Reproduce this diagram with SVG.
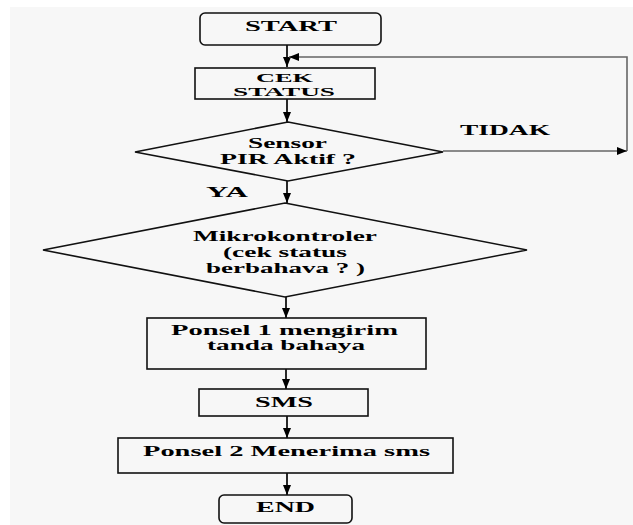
<svg xmlns="http://www.w3.org/2000/svg" width="633" height="525" viewBox="0 0 633 525">
<defs>
<marker id="ah" viewBox="0 0 10 10" refX="10" refY="5" markerWidth="10" markerHeight="10" markerUnits="userSpaceOnUse" orient="auto">
<path d="M0,1 L10,5 L0,9 Z" fill="#000"/>
</marker>
<style>
.box{fill:none;stroke:#111;stroke-width:1.6}
.ln{fill:none;stroke:#111;stroke-width:1.8}
.lp{fill:none;stroke:#666;stroke-width:1.6}
text{font-family:"Liberation Serif","DejaVu Serif","Times New Roman",serif;font-weight:bold;font-size:14px;fill:#000}
</style>
</defs>
<rect x="0" y="0" width="633" height="525" fill="#fff"/>
<rect x="10" y="7" width="623" height="518" fill="#f7f7f7"/>
<g id="connectors">
<line class="ln" x1="287" y1="45" x2="287" y2="67" marker-end="url(#ah)"/>
<polyline class="lp" points="627,151 627,57 289,57" marker-end="url(#ah)"/>
<line class="ln" x1="287" y1="99" x2="287" y2="122" marker-end="url(#ah)"/>
<polyline class="lp" points="443,151 627,151" marker-end="url(#ah)"/>
<line class="ln" x1="287" y1="181" x2="287" y2="203" marker-end="url(#ah)"/>
<line class="ln" x1="286" y1="297" x2="286" y2="318" marker-end="url(#ah)"/>
<line class="ln" x1="286" y1="369" x2="286" y2="389" marker-end="url(#ah)"/>
<line class="ln" x1="287" y1="416" x2="287" y2="438" marker-end="url(#ah)"/>
<line class="ln" x1="287" y1="473" x2="287" y2="495" marker-end="url(#ah)"/>
<text x="460" y="135" textLength="90" lengthAdjust="spacingAndGlyphs">TIDAK</text>
<text x="206" y="197" textLength="42" lengthAdjust="spacingAndGlyphs">YA</text>
</g>
<g id="start">
<rect class="box" x="200" y="13" width="181" height="32" rx="5"/>
<text x="245" y="31" textLength="92" lengthAdjust="spacingAndGlyphs">START</text>
</g>
<g id="cek">
<rect class="box" x="195" y="68" width="180" height="31"/>
<text x="256" y="82" textLength="57" lengthAdjust="spacingAndGlyphs" style="font-size:13px">CEK</text>
<text x="233" y="96" textLength="102" lengthAdjust="spacingAndGlyphs" style="font-size:13px">STATUS</text>
</g>
<g id="sensor">
<polygon class="box" points="288,122 443,152 288,181 135,152"/>
<text x="248" y="148" textLength="79" lengthAdjust="spacingAndGlyphs">Sensor</text>
<text x="220" y="164" textLength="136" lengthAdjust="spacingAndGlyphs">PIR Aktif ?</text>
</g>
<g id="mikro">
<polygon class="box" points="285,203 527,250 285,297 43,250"/>
<text x="193" y="241" textLength="184" lengthAdjust="spacingAndGlyphs">Mikrokontroler</text>
<text x="223" y="257" textLength="124" lengthAdjust="spacingAndGlyphs">(cek status</text>
<text x="206" y="273" textLength="159" lengthAdjust="spacingAndGlyphs">berbahava ? )</text>
</g>
<g id="ponsel1">
<rect class="box" x="147" y="318" width="279" height="51"/>
<text x="171" y="335" textLength="227" lengthAdjust="spacingAndGlyphs">Ponsel 1 mengirim</text>
<text x="207" y="350" textLength="158" lengthAdjust="spacingAndGlyphs">tanda bahaya</text>
</g>
<g id="sms">
<rect class="box" x="199" y="389" width="169" height="27"/>
<text x="255" y="407" textLength="58" lengthAdjust="spacingAndGlyphs">SMS</text>
</g>
<g id="ponsel2">
<rect class="box" x="118" y="438" width="335" height="35"/>
<text x="143" y="456" textLength="287" lengthAdjust="spacingAndGlyphs">Ponsel 2 Menerima sms</text>
</g>
<g id="end">
<rect class="box" x="219" y="495" width="133" height="28" rx="5"/>
<text x="256" y="512" textLength="59" lengthAdjust="spacingAndGlyphs">END</text>
</g>
</svg>
